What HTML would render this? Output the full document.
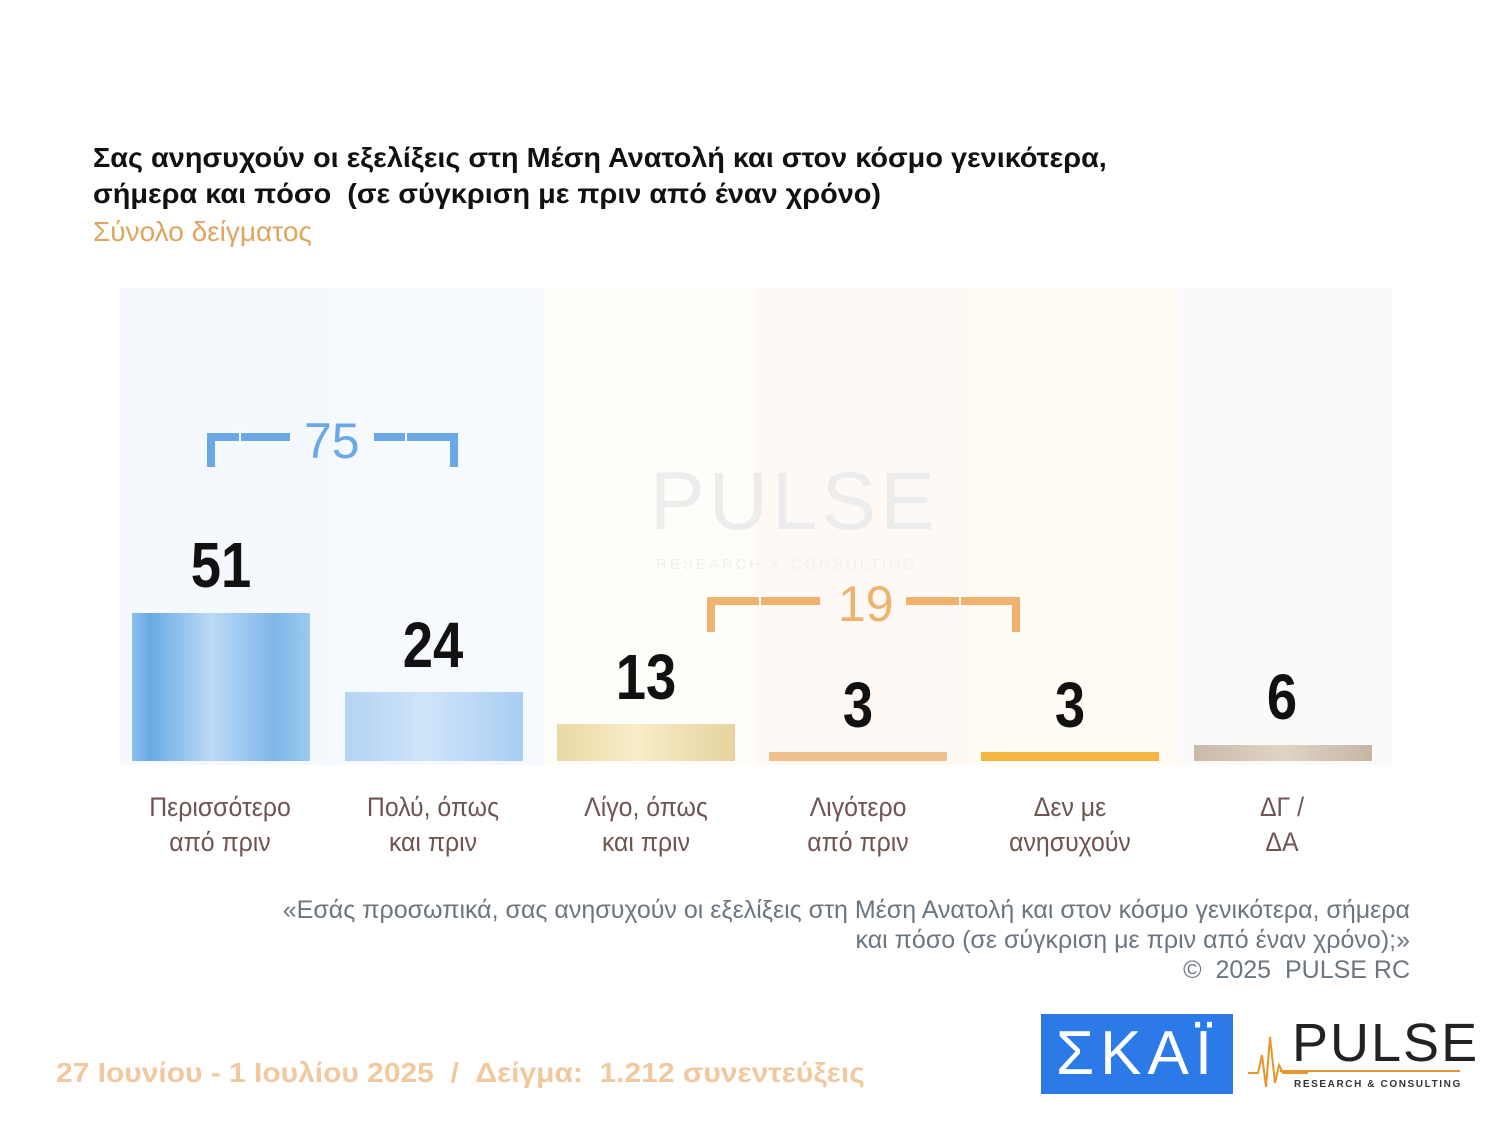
<!DOCTYPE html>
<html><head><meta charset="utf-8"><style>
body{margin:0;width:1500px;height:1125px;background:#fff;position:relative;overflow:hidden;font-family:"Liberation Sans","DejaVu Sans",sans-serif}
.a{position:absolute}
.col{position:absolute;top:288px;height:477px;width:212px}
.bar{position:absolute;width:178px}
.num{position:absolute;width:212px;text-align:center;font-weight:bold;font-size:64px;color:#111;transform:scaleX(0.85)}
.lab{position:absolute;width:212px;text-align:center;font-size:27px;line-height:35px;color:#6e5550;top:790px;transform:scaleX(0.92)}
</style></head><body>
<div class="a" style="left:93px;top:140px;font-size:28px;font-weight:bold;color:#111;line-height:36px;transform:scaleX(1.03);transform-origin:left;white-space:nowrap">Σας ανησυχούν οι εξελίξεις στη Μέση Ανατολή και στον κόσμο γενικότερα,<br>σήμερα και πόσο &nbsp;(σε σύγκριση με πριν από έναν χρόνο)</div>
<div class="a" style="left:93px;top:216px;font-size:28px;color:#e0a55e;transform:scaleX(1.0);transform-origin:left">Σύνολο δείγματος</div>

<div class="col" style="left:120px;background:#f5f9fe"></div>
<div class="col" style="left:332px;background:#f6fafe"></div>
<div class="col" style="left:544px;background:#fefdf9"></div>
<div class="col" style="left:756px;background:#fef9f5"></div>
<div class="col" style="left:968px;background:#fffaf3"></div>
<div class="col" style="left:1180px;background:#fafafa"></div>

<div class="a" style="left:650px;top:455px;font-size:82px;color:#ececec;letter-spacing:4px">PULSE</div>
<div class="a" style="left:656px;top:556px;font-size:15px;color:#f0f0f0;letter-spacing:3px">RESEARCH &amp; CONSULTING</div>

<div class="bar" style="left:132px;top:613px;height:148px;background:linear-gradient(90deg,#8ec0ec,#6aaae4 10%,#bcdaf6 45%,#7fb6ea 80%,#9ccaf0)"></div>
<div class="bar" style="left:345px;top:692px;height:69px;background:linear-gradient(90deg,#b2d4f4,#cfe4f9 45%,#a8cef2)"></div>
<div class="bar" style="left:557px;top:724px;height:37px;background:linear-gradient(90deg,#ead9a6,#f8edc8 45%,#e6d3a0)"></div>
<div class="bar" style="left:769px;top:752px;height:9px;background:#efc08e"></div>
<div class="bar" style="left:981px;top:752px;height:9px;background:#f4b640"></div>
<div class="bar" style="left:1194px;top:745px;height:16px;background:linear-gradient(90deg,#c9b9a8,#e0d4c6 50%,#c6b5a3)"></div>

<div class="num" style="left:115px;top:528px">51</div>
<div class="num" style="left:327px;top:608px">24</div>
<div class="num" style="left:540px;top:640px">13</div>
<div class="num" style="left:752px;top:668px">3</div>
<div class="num" style="left:964px;top:668px">3</div>
<div class="num" style="left:1176px;top:660px">6</div>

<svg class="a" style="left:0;top:0" width="1500" height="1125">
<g fill="none" stroke="#6ba8e6" stroke-width="8">
<polyline points="211,467 211,437 290,437"/>
<polyline points="374,437 454,437 454,467"/>
</g>
<g fill="none" stroke="#efb36f" stroke-width="8">
<polyline points="711,632 711,601 820,601"/>
<polyline points="906,601 1016,601 1016,632"/>
</g>
<g stroke="#fff" stroke-width="2"><line x1="240" y1="430" x2="240" y2="444"/><line x1="406" y1="430" x2="406" y2="444"/><line x1="760" y1="594" x2="760" y2="608"/><line x1="960" y1="594" x2="960" y2="608"/></g>
</svg>
<div class="a" style="left:304px;top:412px;font-size:50px;color:#6ba8e6">75</div>
<div class="a" style="left:838px;top:575px;font-size:50px;color:#efb36f">19</div>

<div class="lab" style="left:114px">Περισσότερο<br>από πριν</div>
<div class="lab" style="left:327px">Πολύ, όπως<br>και πριν</div>
<div class="lab" style="left:540px">Λίγο, όπως<br>και πριν</div>
<div class="lab" style="left:752px">Λιγότερο<br>από πριν</div>
<div class="lab" style="left:964px">Δεν με<br>ανησυχούν</div>
<div class="lab" style="left:1176px">ΔΓ /<br>ΔΑ</div>

<div class="a" style="right:90px;top:895px;text-align:right;font-size:25px;line-height:30px;color:#6b7680;transform:scaleX(1.0);transform-origin:right;white-space:nowrap">«Εσάς προσωπικά, σας ανησυχούν οι εξελίξεις στη Μέση Ανατολή και στον κόσμο γενικότερα, σήμερα<br>και πόσο (σε σύγκριση με πριν από έναν χρόνο);»<br>© &nbsp;2025 &nbsp;PULSE RC</div>

<div class="a" style="left:56px;top:1057px;font-size:28px;font-weight:bold;color:#f0c9a0;transform:scaleX(1.07);transform-origin:left;white-space:nowrap">27 Ιουνίου - 1 Ιουλίου 2025 &nbsp;/ &nbsp;Δείγμα: &nbsp;1.212 συνεντεύξεις</div>

<div class="a" style="left:1041px;top:1014px;width:192px;height:80px;background:#2b7ae8;color:#fff;font-size:62px;text-align:center;line-height:80px;letter-spacing:6px">ΣΚΑΪ</div>
<svg class="a" style="left:1248px;top:1025px" width="60" height="70"><polyline points="0,48 10,48 14,30 18,62 22,12 27,58 31,40 35,48 60,48" fill="none" stroke="#e6962a" stroke-width="2"/></svg>
<div class="a" style="left:1292px;top:1012px;font-size:54px;color:#222;letter-spacing:2px">PULSE</div>
<div class="a" style="left:1280px;top:1070px;width:180px;height:2px;background:#e6962a"></div>
<div class="a" style="left:1294px;top:1079px;font-size:10px;font-weight:bold;color:#333;letter-spacing:1.6px">RESEARCH &amp; CONSULTING</div>
</body></html>
